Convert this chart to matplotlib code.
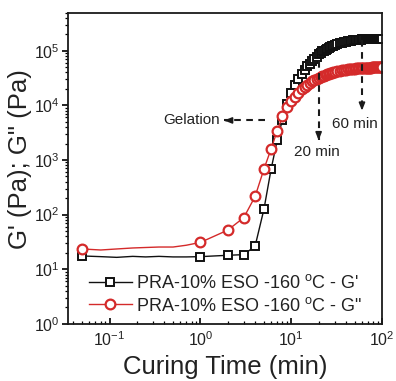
"""
G' and G'' against curing time for PRA-10% ESO at 160 C (log-log).
Writes out.png
"""

import matplotlib
matplotlib.use("Agg")
import matplotlib.pyplot as plt
from matplotlib.ticker import LogLocator, NullFormatter

plt.rcParams["font.family"] = ["Liberation Sans", "DejaVu Sans"]
plt.rcParams["mathtext.default"] = "regular"
plt.rcParams["axes.unicode_minus"] = False

# curing time (min); points below 1 min only shape the line (no marker)
time_min = [0.05, 0.08, 0.12, 0.18, 0.25, 0.35, 0.5, 0.7,
            1, 2, 3, 4, 5, 6, 7, 8, 9, 10,
            11, 12, 13, 14, 15, 16, 17, 18, 19, 20,
            21, 22, 23, 24, 25, 26, 27, 28, 29, 30,
            32, 34, 36, 38, 40, 42, 44, 46, 48, 50,
            52, 54, 56, 58, 60, 62, 64, 66, 68, 70,
            72, 74, 76, 78, 80, 82, 84, 86, 88, 90,
            92, 94, 96, 98, 100]

g_storage = [17.5, 17, 16.5, 17.2, 16.8, 17.2, 16.8, 16.8,
             17, 18, 18.5, 26.5, 125, 680, 2300, 5500, 10500, 16500,
             23500, 31000, 38000, 45000, 52000, 58000, 64000, 70000, 76000, 87000,
             92000, 97000, 101000, 105000, 109000, 113000, 117000, 120000, 123000, 126000,
             131000, 136000, 140000, 144000, 147000, 150000, 152000, 154000, 155500, 157000,
             158000, 159000, 160000, 160500, 161000, 161500, 162000, 162500, 163000, 163000,
             163000, 163500, 163500, 163500, 164000, 164000, 164000, 164000, 164500, 164500,
             164500, 165000, 165000, 165000, 165000]

g_loss = [23.5, 22.5, 23.5, 24.5, 25, 25.5, 25.5, 27.5,
          31, 52, 88, 215, 680, 1600, 3400, 6300, 9200, 11800,
          14500, 17200, 19700, 22000, 24000, 25800, 27500, 29000, 30300, 31600,
          32800, 34000, 35100, 36100, 37000, 37900, 38700, 39400, 40100, 40700,
          41800, 42800, 43600, 44300, 45000, 45500, 46000, 46400, 46800, 47200,
          47500, 47800, 48000, 48200, 48400, 48600, 48700, 48800, 48900, 49000,
          49100, 49200, 49300, 49400, 49500, 49500, 49600, 49600, 49700, 49700,
          49800, 49800, 49900, 49900, 50000]

label_storage = "PRA-10% ESO -160 $^{o}$C - G'"
label_loss = "PRA-10% ESO -160 $^{o}$C - G\""

# annotation anchors (data coords)
GEL_Y = 5300
GEL_FROM, GEL_TO = 5.16, 1.82
T20, T20_TOP, T20_TIP = 20, 65000, 2300
T60, T60_TOP, T60_TIP = 60, 160000, 8000

TEXT = "#222222"
RED = "#d42a2a"
DARK = "#1a1a1a"


def dashed_arrow(ax, x0, y0, x1, y1):
    # dashed shaft, then a short solid arrow for the head
    ax.plot([x0, x1], [y0, y1], color=DARK, lw=1.5, dashes=(3.2, 2.6))
    start = (x1 * 1.06, y1) if y0 == y1 else (x1, y1 * 1.3)
    ax.annotate("", xy=(x1, y1), xytext=start,
                arrowprops=dict(arrowstyle="-|>,head_length=0.45,head_width=0.18",
                                color=DARK, lw=1.2, shrinkA=0, shrinkB=0))


def main():
    fig = plt.figure(figsize=(3.96, 3.81), dpi=100)
    ax = fig.add_axes([0.172, 0.150, 0.793, 0.817])

    show = [t == 0.05 or t >= 1 for t in time_min]

    ax.plot(time_min, g_storage, color="#111111", lw=1.0, marker="s", ms=6.2,
            mfc="white", mec="#111111", mew=1.4, markevery=show, label=label_storage)
    ax.plot(time_min, g_loss, color=RED, lw=1.0, marker="o", ms=7.0,
            mfc="white", mec=RED, mew=1.6, markevery=show, label=label_loss)

    ax.set_xscale("log")
    ax.set_yscale("log")
    ax.set_xlim(0.035, 100)
    ax.set_ylim(1, 5e5)

    ax.xaxis.set_major_locator(LogLocator(base=10, numticks=10))
    ax.yaxis.set_major_locator(LogLocator(base=10, numticks=10))
    ax.xaxis.set_minor_locator(LogLocator(base=10, subs=range(2, 10), numticks=20))
    ax.yaxis.set_minor_locator(LogLocator(base=10, subs=range(2, 10), numticks=20))
    ax.xaxis.set_minor_formatter(NullFormatter())
    ax.yaxis.set_minor_formatter(NullFormatter())

    ax.tick_params(axis="y", which="major", direction="out", length=4, width=1.2,
                   labelsize=11.5, labelcolor=TEXT, pad=2)
    ax.tick_params(axis="y", which="minor", direction="out", length=2, width=0.9)
    ax.tick_params(axis="x", which="major", direction="in", length=4.5, width=1.2,
                   labelsize=11.5, labelcolor=TEXT, pad=5)
    ax.tick_params(axis="x", which="minor", direction="in", length=2.5, width=0.9)
    for s in ax.spines.values():
        s.set_linewidth(1.3)
        s.set_color(DARK)

    ax.set_xlabel("Curing Time (min)", fontsize=18.5, color=TEXT, labelpad=4)
    ax.set_ylabel("G' (Pa); G\" (Pa)", fontsize=18.5, color=TEXT)
    ax.yaxis.set_label_coords(-0.115, 0.53)

    # gelation and time markers
    dashed_arrow(ax, GEL_FROM, GEL_Y, GEL_TO, GEL_Y)
    ax.text(GEL_TO * 0.9, GEL_Y, "Gelation", ha="right", va="center",
            fontsize=11, color=TEXT)
    dashed_arrow(ax, T20, T20_TOP, T20, T20_TIP)
    ax.text(19.3, 1380, "20 min", ha="center", va="center", fontsize=11, color=TEXT)
    dashed_arrow(ax, T60, T60_TOP, T60, T60_TIP)
    ax.text(50.6, 4500, "60 min", ha="center", va="center", fontsize=11, color=TEXT)

    ax.legend(loc="lower left", bbox_to_anchor=(0.065, 0.03), frameon=False,
              fontsize=13, handlelength=2.4, handletextpad=0.25, labelspacing=0.25,
              borderpad=0, borderaxespad=0)
    for txt in ax.get_legend().get_texts():
        txt.set_color(TEXT)

    fig.savefig("out.png", dpi=100)


if __name__ == "__main__":
    main()
